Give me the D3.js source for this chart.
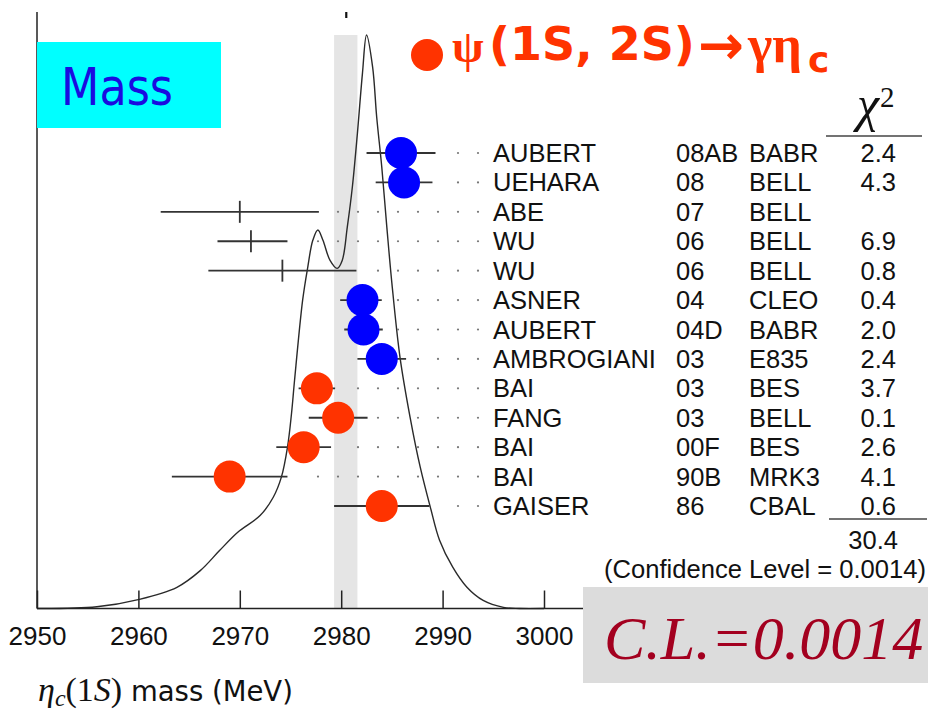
<!DOCTYPE html>
<html>
<head>
<meta charset="utf-8">
<script src="https://cdn.jsdelivr.net/npm/d3@7"></script>
<style>
  html, body { margin: 0; padding: 0; background: #fff; }
  svg { display: block; }
</style>
</head>
<body>
<svg id="chart" width="928" height="712"></svg>
<script>
// ---------------- data ----------------
const authors     = ["AUBERT","UEHARA","ABE","WU","WU","ASNER","AUBERT","AMBROGIANI","BAI","FANG","BAI","BAI","GAISER"];
const years       = ["08AB","08","07","06","06","04","04D","03","03","03","00F","90B","86"];
const experiments = ["BABR","BELL","BELL","BELL","BELL","CLEO","BABR","E835","BES","BELL","BES","MRK3","CBAL"];
const chi2Values  = ["2.4","4.3","","6.9","0.8","0.4","2.0","2.4","3.7","0.1","2.6","4.1","0.6"];
const masses      = [2985.9, 2986.2, 2970.0, 2971.1, 2974.2, 2982.1, 2982.2, 2984.0, 2977.6, 2979.7, 2976.3, 2969.0, 2984.0];
const errLow      = [3.4, 2.8, 7.8, 3.3, 7.3, 2.2, 1.9, 2.4, 1.8, 2.9, 2.7, 5.7, 4.7];
const errHigh     = [3.4, 2.8, 7.8, 3.6, 7.3, 1.9, 1.9, 2.4, 1.8, 2.9, 2.7, 5.7, 4.7];
const markerKind  = ["blue","blue","none","none","none","blue","blue","blue","red","red","red","red","red"];

const chi2Total   = "30.4";
const confLevel   = "(Confidence Level = 0.0014)";
const clText      = "C.L.=0.0014";

const averageMass = 2980.5;
const averageBand = [2979.3, 2981.6];

// ideogram curve (mass, relative height)
const curveMass    = [2950.0, 2955.9, 2960.1, 2963.8, 2966.1, 2968.0, 2969.8, 2972.0, 2973.3, 2974.1, 2974.7, 2975.1, 2975.4, 2976.2, 2976.7, 2977.2, 2977.7, 2978.2, 2978.9, 2979.6, 2980.1, 2980.6, 2981.1, 2981.6, 2982.1, 2982.5, 2983.1, 2983.5, 2984.0, 2984.5, 2985.0, 2985.8, 2986.8, 2987.8, 2988.8, 2989.7, 2991.0, 2992.4, 2994.0, 2996.0, 2997.6, 3000.0];
const curveDensity = [0.000, 0.003, 0.016, 0.037, 0.066, 0.101, 0.133, 0.162, 0.194, 0.229, 0.281, 0.340, 0.398, 0.538, 0.595, 0.642, 0.660, 0.642, 0.607, 0.593, 0.607, 0.665, 0.735, 0.829, 0.934, 1.000, 0.944, 0.857, 0.770, 0.665, 0.567, 0.438, 0.333, 0.246, 0.176, 0.119, 0.072, 0.037, 0.014, 0.002, 0.000, 0.000];

const xTicks = [2950, 2960, 2970, 2980, 2990, 3000];

// ---------------- drawing ----------------
const svg = d3.select("#chart");
const x = d3.scaleLinear().domain([2950, 3000]).range([37, 544]);
const y = d3.scaleLinear().domain([0, 1]).range([608.5, 35]);
const rowY = d3.scalePoint().domain(d3.range(authors.length)).range([153, 506]);
const colours = { blue: "#0000ff", red: "#ff3300" };
const axisY = 608.5;

// average band
svg.append("rect")
  .attr("x", x(averageBand[0])).attr("width", x(averageBand[1]) - x(averageBand[0]))
  .attr("y", y(1)).attr("height", axisY - y(1))
  .attr("fill", "#e5e5e5");

// average marker on top
svg.append("line")
  .attr("x1", x(averageMass)).attr("x2", x(averageMass))
  .attr("y1", 12).attr("y2", 18)
  .attr("stroke", "#111").attr("stroke-width", 2.2);

// ideogram curve
const curvePts = curveMass.map((m, i) => [m, curveDensity[i]]);
svg.append("path")
  .datum(curvePts)
  .attr("d", d3.line().x(d => x(d[0])).y(d => y(d[1])).curve(d3.curveCatmullRom.alpha(0.5)))
  .attr("fill", "none").attr("stroke", "#2a2a2a").attr("stroke-width", 1.4);

// dotted guide lines
const gridDots = d3.range(318, 479, 20);
authors.forEach((a, i) => {
  const barEnd = x(masses[i] + errHigh[i]);
  svg.append("g").selectAll("circle")
    .data(gridDots.filter(g => g >= barEnd + 10))
    .join("circle")
    .attr("cx", d => d).attr("cy", rowY(i))
    .attr("r", 1.1).attr("fill", "#777");
});

// error bars
const rows = authors.map((a, i) => ({ i, m: masses[i], lo: errLow[i], hi: errHigh[i], kind: markerKind[i] }));
svg.append("g").selectAll("line")
  .data(rows).join("line")
  .attr("x1", d => x(d.m - d.lo)).attr("x2", d => x(d.m + d.hi))
  .attr("y1", d => rowY(d.i)).attr("y2", d => rowY(d.i))
  .attr("stroke", "#333").attr("stroke-width", 1.8);

// central ticks for points without marker
svg.append("g").selectAll("line")
  .data(rows.filter(d => d.kind === "none")).join("line")
  .attr("x1", d => x(d.m)).attr("x2", d => x(d.m))
  .attr("y1", d => rowY(d.i) - 11).attr("y2", d => rowY(d.i) + 11)
  .attr("stroke", "#333").attr("stroke-width", 1.8);

// markers
svg.append("g").selectAll("circle")
  .data(rows.filter(d => d.kind !== "none")).join("circle")
  .attr("cx", d => x(d.m)).attr("cy", d => rowY(d.i))
  .attr("r", 16).attr("fill", d => colours[d.kind]);

// axes
svg.append("line")
  .attr("x1", 37).attr("x2", 37).attr("y1", 12).attr("y2", axisY)
  .attr("stroke", "#222").attr("stroke-width", 1.5);
svg.append("line")
  .attr("x1", 37).attr("x2", 584).attr("y1", axisY).attr("y2", axisY)
  .attr("stroke", "#222").attr("stroke-width", 1.5);

const xAxis = d3.axisBottom(x).tickValues(xTicks).tickFormat(d3.format("d")).tickSizeInner(-18).tickSizeOuter(0).tickPadding(18);
const gx = svg.append("g").attr("transform", `translate(0,${axisY})`).call(xAxis);
gx.select(".domain").remove();
gx.selectAll(".tick line").attr("stroke", "#222").attr("stroke-width", 1.5);
gx.selectAll(".tick text")
  .attr("font-family", "'Liberation Sans', Arial, sans-serif")
  .attr("font-size", 26).attr("fill", "#111");

// x label
const xl = svg.append("text").attr("x", 38).attr("y", 701).attr("fill", "#111").attr("font-size", 34);
xl.append("tspan").attr("font-family", "'Liberation Serif', serif").attr("font-style", "italic").text("η");
xl.append("tspan").attr("font-family", "'Liberation Serif', serif").attr("font-style", "italic").attr("font-size", 24).attr("dy", 5).text("c");
xl.append("tspan").attr("font-family", "'Liberation Serif', serif").attr("dy", -5).text("(1");
xl.append("tspan").attr("font-family", "'Liberation Serif', serif").attr("font-style", "italic").text("S");
xl.append("tspan").attr("font-family", "'Liberation Serif', serif").text(")");
xl.append("tspan").attr("font-family", "'DejaVu Sans', sans-serif").attr("font-size", 27.5).text(" mass (MeV)");

// table text
const textFont = "'Liberation Sans', Arial, sans-serif";
const cols = [
  { data: authors, x: 493, anchor: "start" },
  { data: years, x: 676, anchor: "start" },
  { data: experiments, x: 749, anchor: "start" },
  { data: chi2Values, x: 896, anchor: "end" }
];
cols.forEach(c => {
  svg.append("g").selectAll("text")
    .data(c.data).join("text")
    .attr("x", c.x).attr("y", (d, i) => rowY(i) + 9)
    .attr("text-anchor", c.anchor)
    .attr("font-family", textFont).attr("font-size", 25.5).attr("fill", "#111")
    .text(d => d);
});

// chi2 header
svg.append("text").attr("x", 857).attr("y", 121)
  .attr("font-family", "'Liberation Serif', serif").attr("font-style", "italic")
  .attr("font-size", 50).attr("fill", "#111").text("χ");
svg.append("text").attr("x", 880).attr("y", 107)
  .attr("font-family", "'Liberation Serif', serif")
  .attr("font-size", 29).attr("fill", "#111").text("2");
svg.append("line").attr("x1", 826).attr("x2", 922).attr("y1", 136).attr("y2", 136)
  .attr("stroke", "#444").attr("stroke-width", 1.5);

// total
svg.append("line").attr("x1", 829).attr("x2", 927).attr("y1", 519).attr("y2", 519)
  .attr("stroke", "#444").attr("stroke-width", 1.5);
svg.append("text").attr("x", 898).attr("y", 549).attr("text-anchor", "end")
  .attr("font-family", textFont).attr("font-size", 25.5).attr("fill", "#111").text(chi2Total);
svg.append("text").attr("x", 604).attr("y", 578)
  .attr("textLength", 322).attr("lengthAdjust", "spacingAndGlyphs")
  .attr("font-family", textFont).attr("font-size", 25.5).attr("fill", "#111").text(confLevel);

// Mass box
svg.append("rect").attr("x", 37).attr("y", 42).attr("width", 184).attr("height", 86).attr("fill", "#00ffff");
svg.append("text").attr("x", 61).attr("y", 105)
  .attr("font-family", "'DejaVu Sans', Verdana, sans-serif").attr("font-size", 51)
  .attr("textLength", 112).attr("lengthAdjust", "spacingAndGlyphs")
  .attr("fill", "#1a0ce0").text("Mass");

// title
const red = "#ff3300";
svg.append("circle").attr("cx", 427).attr("cy", 55).attr("r", 16).attr("fill", red);
svg.append("text").attr("x", 452).attr("y", 62).attr("fill", red)
  .attr("font-family", "'Liberation Serif', serif").attr("font-weight", "bold").attr("font-size", 46)
  .text("ψ");
svg.append("text").attr("x", 489).attr("y", 60).attr("fill", red)
  .attr("font-family", "'DejaVu Sans', sans-serif").attr("font-weight", "bold").attr("font-size", 46)
  .text("(1S, 2S)");
svg.append("text").attr("x", 698).attr("y", 64).attr("fill", red)
  .attr("font-family", "'DejaVu Sans', sans-serif").attr("font-weight", "bold").attr("font-size", 55)
  .text("→");
svg.append("text").attr("x", 748).attr("y", 62).attr("fill", red)
  .attr("font-family", "'Liberation Serif', serif").attr("font-weight", "bold").attr("font-size", 52)
  .text("γη");
svg.append("text").attr("x", 808).attr("y", 72).attr("fill", red)
  .attr("font-family", "'DejaVu Sans', sans-serif").attr("font-weight", "bold").attr("font-size", 36)
  .text("c");

// C.L. box
svg.append("rect").attr("x", 583).attr("y", 587).attr("width", 345).attr("height", 96).attr("fill", "#dcdcdc");
svg.append("text").attr("x", 604).attr("y", 659)
  .attr("font-family", "'Liberation Serif', 'Times New Roman', serif").attr("font-style", "italic")
  .attr("font-size", 62).attr("fill", "#a3001f").text(clText);
</script>
</body>
</html>
